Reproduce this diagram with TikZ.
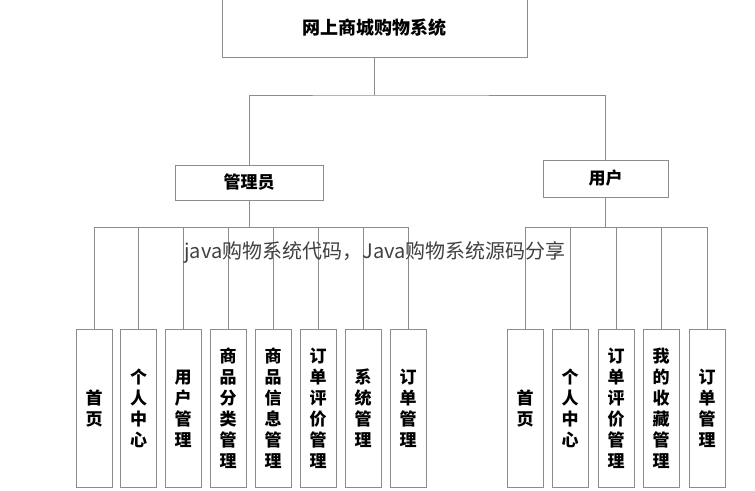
\documentclass[tikz,border=0pt]{standalone}
\usepackage{fontspec}
\setmainfont{Noto Sans CJK SC}
\newfontfamily\cjk{Noto Sans CJK SC}
\begin{document}
\begin{tikzpicture}[x=1pt,y=-1pt,
  box/.style={draw=black!45,line width=0.8pt,fill=white,inner sep=0pt},
  ln/.style={draw=black!45,line width=0.8pt},
  leaf/.style={box,minimum width=36pt,minimum height=158pt,font=\bfseries\fontsize{17}{21}\selectfont,align=center}]
\useasboundingbox (0,0) rectangle (755,490);
\node[box,minimum width=305pt,minimum height=58pt,font=\bfseries\fontsize{18}{20}\selectfont] (root) at (374.5,28) {网上商城购物系统};
\node[box,minimum width=148pt,minimum height=35pt,font=\bfseries\fontsize{17}{20}\selectfont] (adm) at (249,182.5) {管理员};
\node[box,minimum width=125pt,minimum height=37pt,font=\bfseries\fontsize{17}{20}\selectfont] (usr) at (605.5,178.5) {用户};
\coordinate (j) at (374.5,95);
\draw[ln] (root.south) -- (j);
\draw[ln] (adm.north) |- (j) -| (usr.north);
\coordinate (ja) at (249,227);
\coordinate (ju) at (605.5,227);
\draw[ln] (adm.south) -- (ja);
\draw[ln] (usr.south) -- (ju);
\foreach \n/\x/\t in {a1/94/首\\页, a2/138.5/个\\人\\中\\心, a3/183/用\\户\\管\\理, a4/228/商\\品\\分\\类\\管\\理, a5/273/商\\品\\信\\息\\管\\理, a6/318/订\\单\\评\\价\\管\\理, a7/363/系\\统\\管\\理, a8/408/订\\单\\管\\理}{
  \node[leaf] (\n) at (\x,408.5) {\t};
  \draw[ln] (\n.north) |- (ja);
}
\foreach \n/\x/\t in {u1/525/首\\页, u2/570/个\\人\\中\\心, u3/616/订\\单\\评\\价\\管\\理, u4/661/我\\的\\收\\藏\\管\\理, u5/707/订\\单\\管\\理}{
  \node[leaf] (\n) at (\x,408.5) {\t};
  \draw[ln] (\n.north) |- (ju);
}
\node[font=\fontsize{20}{22}\selectfont,text=black!75] (wm) at (375,252) {java购物系统代码，Java购物系统源码分享};
\end{tikzpicture}
\end{document}
